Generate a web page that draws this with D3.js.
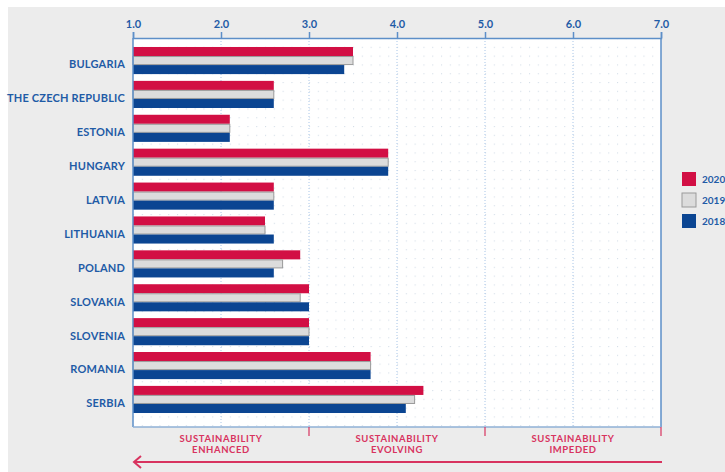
<!DOCTYPE html>
<html>
<head>
<meta charset="utf-8">
<script src="https://cdnjs.cloudflare.com/ajax/libs/d3/7.8.5/d3.min.js"></script>
<style>
  body { margin: 0; background: #fff; }
  svg { display: block; font-family: 'Lato', 'Open Sans', sans-serif; font-weight: 700; }
</style>
</head>
<body>
<div id="graph-container"></div>
<script>
// Data________________________________________________________________
const countries = ['BULGARIA', 'THE CZECH REPUBLIC', 'ESTONIA', 'HUNGARY', 'LATVIA', 'LITHUANIA',
    'POLAND', 'SLOVAKIA', 'SLOVENIA', 'ROMANIA', 'SERBIA'];
const years = ['2020', '2019', '2018'];
const values2020 = [3.5, 2.6, 2.1, 3.9, 2.6, 2.5, 2.9, 3.0, 3.0, 3.7, 4.3];
const values2019 = [3.5, 2.6, 2.1, 3.9, 2.6, 2.5, 2.7, 2.9, 3.0, 3.7, 4.2];
const values2018 = [3.4, 2.6, 2.1, 3.9, 2.6, 2.6, 2.6, 3.0, 3.0, 3.7, 4.1];
const tickValues = [1, 2, 3, 4, 5, 6, 7];
const zoneTicks = [3, 5, 7];
const zones = [
    {center: 2, lines: ['SUSTAINABILITY', 'ENHANCED']},
    {center: 4, lines: ['SUSTAINABILITY', 'EVOLVING']},
    {center: 6, lines: ['SUSTAINABILITY', 'IMPEDED']},
];
const colors = ['#d20f44', '#dcdcdc', '#0b4592'];

// Variables___________________________________________________________
const graphWidth = 725;
const graphHeight = 472;
const blue = '#1f5ba6';
const axisBlue = '#5d8fc8';
const pink = '#d8335f';
const series = [values2020, values2019, values2018];
const table = countries.map((c, i) => ({country: c, vals: series.map(s => s[i])}));

const xScale = d3.scaleLinear().domain([1, 7]).range([133, 661]);
const yScale = d3.scaleBand().domain(countries).range([43.6, 416.4]).paddingInner(0.2).paddingOuter(0.1);
const ySub = d3.scaleBand().domain(years).range([0, yScale.bandwidth()]);
const plotTop = 38;
const plotBottom = 427;

// SVG_________________________________________________________________
const svg = d3.select('#graph-container')
    .append('svg')
    .attr('width', graphWidth)
    .attr('height', graphHeight);

svg.append('rect')
    .attr('x', 8).attr('y', 7)
    .attr('width', graphWidth).attr('height', graphHeight)
    .attr('fill', '#ececec');

// dot grid pattern
const defs = svg.append('defs');
const pat = defs.append('pattern')
    .attr('id', 'dots')
    .attr('patternUnits', 'userSpaceOnUse')
    .attr('x', xScale(1)).attr('y', plotTop)
    .attr('width', xScale(1.1) - xScale(1))
    .attr('height', xScale(1.1) - xScale(1));
pat.append('circle').attr('cx', 0.6).attr('cy', 0.6).attr('r', 0.6).attr('fill', '#cdd7e4');

svg.append('rect')
    .attr('x', xScale(1)).attr('y', plotTop)
    .attr('width', xScale(7) - xScale(1)).attr('height', plotBottom - plotTop)
    .attr('fill', '#fff');
svg.append('rect')
    .attr('x', xScale(1)).attr('y', plotTop)
    .attr('width', xScale(7) - xScale(1)).attr('height', plotBottom - plotTop)
    .attr('fill', 'url(#dots)');

// major dotted gridlines
svg.append('g')
    .selectAll('line')
    .data(tickValues.slice(1, -1))
    .enter()
    .append('line')
    .attr('x1', d => xScale(d)).attr('x2', d => xScale(d))
    .attr('y1', plotTop).attr('y2', plotBottom)
    .attr('stroke', '#a9c6e8')
    .attr('stroke-width', 1)
    .attr('stroke-dasharray', '1,2');

// Bars________________________________________________________________
const groups = svg.append('g')
    .selectAll('g')
    .data(table)
    .enter()
    .append('g')
    .attr('transform', d => `translate(0, ${yScale(d.country)})`);

groups.selectAll('rect')
    .data(d => d.vals.map((v, i) => ({year: years[i], value: v, i: i})))
    .enter()
    .append('rect')
    .attr('x', xScale(1))
    .attr('y', d => ySub(d.year) + (d.i === 1 ? 0.5 : 0))
    .attr('width', d => xScale(d.value) - xScale(1))
    .attr('height', d => ySub.bandwidth() - (d.i === 1 ? 1 : 0))
    .attr('fill', d => colors[d.i])
    .attr('stroke', d => d.i === 1 ? '#9a9a9a' : 'none')
    .attr('stroke-width', 1);

// Country labels______________________________________________________
svg.append('g')
    .selectAll('text')
    .data(countries)
    .enter()
    .append('text')
    .attr('x', 125)
    .attr('y', d => yScale(d) + yScale.bandwidth() / 2 + 4)
    .attr('dy', '0.35em')
    .attr('text-anchor', 'end')
    .attr('fill', blue)
    .style('font-size', '11px')
    .style('letter-spacing', '0.2px')
    .text(d => d);

// Axes / frame________________________________________________________
const frame = svg.append('g').attr('fill', 'none').attr('stroke', axisBlue).attr('stroke-width', 1.5);
frame.append('line').attr('x1', xScale(1)).attr('x2', xScale(1)).attr('y1', plotTop).attr('y2', plotBottom);
frame.append('line').attr('x1', xScale(7)).attr('x2', xScale(7)).attr('y1', plotTop).attr('y2', plotBottom);
frame.append('line').attr('x1', xScale(1)).attr('x2', xScale(7)).attr('y1', plotBottom).attr('y2', plotBottom)
    .attr('stroke', '#8fb0d6');

const xAxis = d3.axisTop(xScale)
    .tickValues(tickValues)
    .tickSize(6)
    .tickFormat(d3.format('.1f'));
const axisG = svg.append('g')
    .attr('transform', `translate(0, ${plotTop})`)
    .call(xAxis);
axisG.select('.domain').attr('stroke', axisBlue).attr('stroke-width', 1.5);
axisG.selectAll('.tick line').attr('stroke', axisBlue).attr('stroke-width', 1.5);
axisG.selectAll('.tick text')
    .attr('fill', blue)
    .attr('y', -10)
    .style('font-family', "'Lato', sans-serif")
    .style('font-weight', 700)
    .style('font-size', '11px');

// Zones below_________________________________________________________
svg.append('g')
    .selectAll('line')
    .data(zoneTicks)
    .enter()
    .append('line')
    .attr('x1', d => xScale(d)).attr('x2', d => xScale(d))
    .attr('y1', plotBottom).attr('y2', plotBottom + 9)
    .attr('stroke', pink)
    .attr('stroke-width', 1.2);

const zoneText = svg.append('g')
    .selectAll('text')
    .data(zones)
    .enter()
    .append('text')
    .attr('x', d => xScale(d.center))
    .attr('y', 442)
    .attr('text-anchor', 'middle')
    .attr('fill', pink)
    .style('font-size', '9.5px')
    .style('letter-spacing', '0.6px');
zoneText.selectAll('tspan')
    .data(d => d.lines.map(l => ({l: l, x: xScale(d.center)})))
    .enter()
    .append('tspan')
    .attr('x', d => d.x)
    .attr('dy', (d, i) => i === 0 ? 0 : 11)
    .text(d => d.l);

// arrow
const arrowY = 462;
svg.append('line')
    .attr('x1', xScale(1) + 1).attr('x2', xScale(7) + 1)
    .attr('y1', arrowY).attr('y2', arrowY)
    .attr('stroke', pink).attr('stroke-width', 2);
svg.append('path')
    .attr('d', `M${xScale(1) + 8},${arrowY - 6} L${xScale(1) + 1},${arrowY} L${xScale(1) + 8},${arrowY + 6}`)
    .attr('fill', 'none').attr('stroke', pink).attr('stroke-width', 2);

// Legend______________________________________________________________
const legend = svg.append('g')
    .selectAll('g')
    .data(years)
    .enter()
    .append('g')
    .attr('transform', (d, i) => `translate(682, ${172 + i * 21})`);
legend.append('rect')
    .attr('width', 14).attr('height', 14)
    .attr('fill', (d, i) => colors[i])
    .attr('stroke', (d, i) => i === 1 ? '#9a9a9a' : 'none');
legend.append('text')
    .attr('x', 20).attr('y', 7).attr('dy', '0.35em')
    .attr('fill', blue)
    .style('font-size', '10px')
    .text(d => d);
</script>
</body>
</html>
